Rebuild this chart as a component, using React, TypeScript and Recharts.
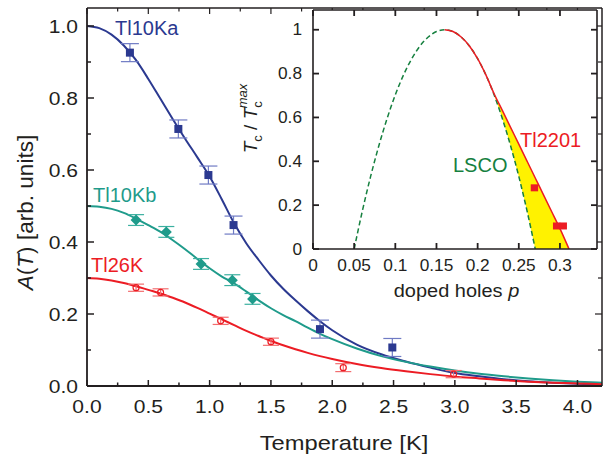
import React from 'react';
import { ComposedChart, Line, Scatter, ErrorBar, XAxis, YAxis, Area, CartesianGrid } from 'recharts';

const FONT = '"Liberation Sans", Arial, Helvetica, sans-serif';
const AX = '#231f20';
const BLUE = '#2b3990';
const TEAL = '#1f9b8b';
const RED = '#ec1c24';
const GREEN = '#16803f';
const YELLOW = '#fff200';

// ---------- main panel data ----------
const fitT = [0, 0.1, 0.2, 0.3, 0.4, 0.5, 0.6, 0.7, 0.8, 0.9, 1.0, 1.1, 1.2, 1.3, 1.4, 1.5, 1.6, 1.7, 1.8, 1.9, 2.0, 2.2, 2.4, 2.6, 2.8, 3.0, 3.2, 3.4, 3.6, 3.8, 4.0, 4.2];
const fitKa = [1.0, 0.994, 0.976, 0.946, 0.905, 0.853, 0.797, 0.741, 0.687, 0.635, 0.582, 0.518, 0.452, 0.396, 0.35, 0.307, 0.27, 0.238, 0.208, 0.18, 0.155, 0.115, 0.088, 0.068, 0.051, 0.036, 0.027, 0.019, 0.013, 0.009, 0.006, 0.004];
const fitKb = [0.5, 0.498, 0.492, 0.481, 0.465, 0.447, 0.428, 0.405, 0.38, 0.353, 0.327, 0.304, 0.285, 0.262, 0.238, 0.216, 0.197, 0.18, 0.162, 0.145, 0.13, 0.104, 0.083, 0.067, 0.054, 0.043, 0.034, 0.027, 0.021, 0.016, 0.012, 0.009];
const fit26 = [0.3, 0.298, 0.293, 0.286, 0.277, 0.267, 0.257, 0.245, 0.232, 0.217, 0.201, 0.185, 0.169, 0.153, 0.139, 0.125, 0.113, 0.102, 0.092, 0.083, 0.075, 0.061, 0.05, 0.041, 0.033, 0.026, 0.021, 0.016, 0.012, 0.009, 0.007, 0.005];

const kaT = [0.35, 0.745, 0.99, 1.195, 1.9, 2.49];
const kaA = [0.926, 0.714, 0.586, 0.447, 0.158, 0.107];
const kaErr = [0.025, 0.025, 0.025, 0.025, 0.025, 0.025];

const kbT = [0.4, 0.647, 0.93, 1.185, 1.35];
const kbA = [0.461, 0.428, 0.339, 0.294, 0.242];
const kbErr = [0.015, 0.015, 0.015, 0.015, 0.015];

const k26T = [0.4, 0.6, 1.09, 1.5, 2.09, 2.99];
const k26A = [0.273, 0.26, 0.181, 0.123, 0.051, 0.033];
const k26Err = [0.01, 0.01, 0.01, 0.01, 0.011, 0.01];

const mainXTicks = [0, 0.25, 0.5, 0.75, 1.0, 1.25, 1.5, 1.75, 2.0, 2.25, 2.5, 2.75, 3.0, 3.25, 3.5, 3.75, 4.0];
const mainYTicks = [0, 0.1, 0.2, 0.3, 0.4, 0.5, 0.6, 0.7, 0.8, 0.9, 1.0];

// ---------- inset data ----------
const lscoP = [0.05, 0.06, 0.07, 0.08, 0.09, 0.1, 0.11, 0.12, 0.13, 0.14, 0.15, 0.16, 0.17, 0.18, 0.19, 0.2, 0.21, 0.22, 0.23, 0.24, 0.25, 0.26, 0.27];
const lscoTc = [0, 0.174, 0.331, 0.471, 0.595, 0.703, 0.794, 0.868, 0.926, 0.967, 0.992, 1.0, 0.992, 0.967, 0.926, 0.868, 0.794, 0.703, 0.595, 0.471, 0.331, 0.174, 0];
const tlP = [0.16, 0.17, 0.18, 0.19, 0.2, 0.21, 0.22, 0.23, 0.24, 0.25, 0.26, 0.27, 0.28, 0.29, 0.3, 0.311];
const tlTc = [1.0, 0.992, 0.967, 0.926, 0.868, 0.794, 0.708, 0.632, 0.555, 0.478, 0.401, 0.324, 0.247, 0.17, 0.093, 0];
const shadeP = [0.22, 0.23, 0.24, 0.25, 0.26, 0.27, 0.28, 0.29, 0.3, 0.311];
const shadeLo = [0.703, 0.595, 0.471, 0.331, 0.174, 0, 0, 0, 0, 0];
const shadeHi = [0.708, 0.632, 0.555, 0.478, 0.401, 0.324, 0.247, 0.17, 0.093, 0];
const tlPtP = [0.269, 0.296, 0.304];
const tlPtTc = [0.279, 0.105, 0.105];

const insetXTicks = [0, 0.05, 0.1, 0.15, 0.2, 0.25, 0.3];
const insetYTicks = [0, 0.2, 0.4, 0.6, 0.8, 1];

const zipXY = (xs: number[], ys: number[]) => xs.map((x, i) => ({ x, y: ys[i] }));
const zipErr = (xs: number[], ys: number[], es: number[]) => xs.map((x, i) => ({ x, y: ys[i], e: es[i] }));

const fitKaData = zipXY(fitT, fitKa);
const fitKbData = zipXY(fitT, fitKb);
const fit26Data = zipXY(fitT, fit26);
const kaData = zipErr(kaT, kaA, kaErr);
const kbData = zipErr(kbT, kbA, kbErr);
const k26Data = zipErr(k26T, k26A, k26Err);

const lscoData = zipXY(lscoP, lscoTc);
const tlData = zipXY(tlP, tlTc);
const shadeData = shadeP.map((x, i) => ({ x, r: [shadeLo[i], shadeHi[i]] }));
const tlPtData = zipXY(tlPtP, tlPtTc);

// ---------- tick renderers ----------
const MainXTick = (props: any) => {
  const { x, y, payload } = props;
  const v = payload.value as number;
  const major = Math.round(v * 4) % 2 === 0;
  return (
    <g>
      <line x1={x} x2={x} y1={y} y2={y - (major ? 6 : 3.5)} stroke={AX} strokeWidth={1.5} />
      {major && (
        <text transform={`translate(${x},${y + 27}) scale(1.17,1)`} textAnchor="middle" fontSize={18} fill={AX} fontFamily={FONT}>
          {v.toFixed(1)}
        </text>
      )}
    </g>
  );
};
const MainTopTick = (props: any) => {
  const { x, y, payload } = props;
  const v = payload.value as number;
  const major = Math.round(v * 4) % 2 === 0;
  return <line x1={x} x2={x} y1={y} y2={y + (major ? 6 : 3.5)} stroke={AX} strokeWidth={1.2} />;
};
const MainYTick = (props: any) => {
  const { x, y, payload } = props;
  const v = payload.value as number;
  const major = Math.round(v * 10) % 2 === 0;
  return (
    <g>
      <line x1={x} x2={x + (major ? 7 : 4)} y1={y} y2={y} stroke={AX} strokeWidth={1.5} />
      {major && (
        <text transform={`translate(${x - 9},${y + 6.5}) scale(1.17,1)`} textAnchor="end" fontSize={18} fill={AX} fontFamily={FONT}>
          {v.toFixed(1)}
        </text>
      )}
    </g>
  );
};
const MainRightTick = (props: any) => {
  const { x, y, payload } = props;
  const v = payload.value as number;
  const major = Math.round(v * 10) % 2 === 0;
  return <line x1={x} x2={x - (major ? 7 : 4)} y1={y} y2={y} stroke={AX} strokeWidth={1.2} />;
};

const InsetXTick = (props: any) => {
  const { x, y, payload } = props;
  const v = payload.value as number;
  return (
    <g>
      <line x1={x} x2={x} y1={y} y2={y - 6} stroke={AX} strokeWidth={1.8} />
      <text transform={`translate(${x},${y + 22}) scale(1.08,1)`} textAnchor="middle" fontSize={16} fill={AX} fontFamily={FONT}>
        {String(v)}
      </text>
    </g>
  );
};
const InsetTopTick = (props: any) => {
  const { x, y } = props;
  return <line x1={x} x2={x} y1={y} y2={y + 6} stroke={AX} strokeWidth={1.8} />;
};
const InsetYTick = (props: any) => {
  const { x, y, payload } = props;
  const v = payload.value as number;
  return (
    <g>
      <line x1={x} x2={x + 6} y1={y} y2={y} stroke={AX} strokeWidth={1.8} />
      <text transform={`translate(${x - 11},${y + 5.7}) scale(1.08,1)`} textAnchor="end" fontSize={16} fill={AX} fontFamily={FONT}>
        {String(v)}
      </text>
    </g>
  );
};
const InsetRightTick = (props: any) => {
  const { x, y } = props;
  return <line x1={x} x2={x - 6} y1={y} y2={y} stroke={AX} strokeWidth={1.8} />;
};

// ---------- marker shapes ----------
const SquareShape = (props: any) => {
  const { cx, cy } = props;
  return <rect x={cx - 4} y={cy - 4} width={8} height={8} fill={BLUE} />;
};
const DiamondShape = (props: any) => {
  const { cx, cy } = props;
  const h = 5.5;
  return <polygon points={`${cx},${cy - h} ${cx + h},${cy} ${cx},${cy + h} ${cx - h},${cy}`} fill={TEAL} />;
};
const CircleShape = (props: any) => {
  const { cx, cy } = props;
  return <circle cx={cx} cy={cy} r={3} fill="none" stroke={RED} strokeWidth={1.2} />;
};
const RedSquare = (props: any) => {
  const { cx, cy } = props;
  return <rect x={cx - 3.7} y={cy - 3.5} width={7.4} height={7} fill={RED} />;
};

const axisCommon = {
  type: 'number' as const,
  allowDataOverflow: true,
  tickSize: 0,
  tickMargin: 0,
  tickLine: false,
  interval: 0 as const,
};

export default function App() {
  return (
    <div style={{ position: 'absolute', left: 0, top: 0, width: 605, height: 455, background: '#fff' }}>
      {/* main chart: plot area x 87..602, y 8..386 */}
      <div style={{ position: 'absolute', left: 0, top: 0 }}>
        <ComposedChart width={605} height={455} margin={{ top: 7, right: 2, bottom: 39, left: 27 }}>
          <XAxis {...axisCommon} xAxisId={0} dataKey="x" domain={[0, 4.2]} ticks={mainXTicks} height={30}
            tick={MainXTick} axisLine={{ stroke: AX, strokeWidth: 1.8 }} />
          <XAxis {...axisCommon} xAxisId="top" orientation="top" dataKey="x" domain={[0, 4.2]} ticks={mainXTicks} height={1}
            tick={MainTopTick} axisLine={{ stroke: AX, strokeWidth: 1.5 }} />
          <YAxis {...axisCommon} yAxisId={0} dataKey="y" domain={[0, 1.05]} ticks={mainYTicks} width={60}
            tick={MainYTick} axisLine={{ stroke: AX, strokeWidth: 1.8 }} />
          <YAxis {...axisCommon} yAxisId="right" orientation="right" dataKey="y" domain={[0, 1.05]} ticks={mainYTicks} width={1}
            tick={MainRightTick} axisLine={{ stroke: AX, strokeWidth: 1.5 }} />
          <Line data={fitKaData} dataKey="y" type="monotone" stroke={BLUE} strokeWidth={2} dot={false} isAnimationActive={false} />
          <Line data={fitKbData} dataKey="y" type="monotone" stroke={TEAL} strokeWidth={2} dot={false} isAnimationActive={false} />
          <Line data={fit26Data} dataKey="y" type="monotone" stroke={RED} strokeWidth={2} dot={false} isAnimationActive={false} />
          <Scatter data={kaData} shape={SquareShape} isAnimationActive={false}>
            <ErrorBar dataKey="e" direction="y" width={9} stroke="#6f7bc4" strokeWidth={1.2} isAnimationActive={false} />
          </Scatter>
          <Scatter data={kbData} shape={DiamondShape} isAnimationActive={false}>
            <ErrorBar dataKey="e" direction="y" width={8} stroke="#3bb0a0" strokeWidth={1.2} isAnimationActive={false} />
          </Scatter>
          <Scatter data={k26Data} shape={CircleShape} isAnimationActive={false}>
            <ErrorBar dataKey="e" direction="y" width={8} stroke="#f26d6f" strokeWidth={1.2} isAnimationActive={false} />
          </Scatter>
        </ComposedChart>
      </div>

      {/* inset chart: plot area x 313..597, y 10..249 */}
      <div style={{ position: 'absolute', left: 230, top: 0 }}>
        <ComposedChart width={375} height={300} margin={{ top: 9, right: 7, bottom: 21, left: 43 }}>
          <CartesianGrid horizontal={false} vertical={false} fill="#ffffff" />
          <XAxis {...axisCommon} xAxisId={0} dataKey="x" domain={[0, 0.345]} ticks={insetXTicks} height={30}
            tick={InsetXTick} axisLine={{ stroke: AX, strokeWidth: 1.6 }} />
          <XAxis {...axisCommon} xAxisId="t" orientation="top" dataKey="x" domain={[0, 0.345]} ticks={insetXTicks} height={1}
            tick={InsetTopTick} axisLine={{ stroke: AX, strokeWidth: 1.6 }} />
          <YAxis {...axisCommon} yAxisId={0} dataKey="y" domain={[0, 1.09]} ticks={insetYTicks} width={40}
            tick={InsetYTick} axisLine={{ stroke: AX, strokeWidth: 1.6 }} />
          <YAxis {...axisCommon} yAxisId="r" orientation="right" dataKey="y" domain={[0, 1.09]} ticks={insetYTicks} width={1}
            tick={InsetRightTick} axisLine={{ stroke: AX, strokeWidth: 1.6 }} />
          <Area data={shadeData} dataKey="r" type="linear" stroke="none" fill={YELLOW} fillOpacity={1} isAnimationActive={false} />
          <Line data={lscoData} dataKey="y" type="monotone" stroke={GREEN} strokeWidth={1.5} strokeDasharray="5 3" dot={false} isAnimationActive={false} />
          <Line data={tlData} dataKey="y" type="monotone" stroke={RED} strokeWidth={1.5} dot={false} isAnimationActive={false} />
          <Scatter data={tlPtData} shape={RedSquare} isAnimationActive={false} />
        </ComposedChart>
      </div>

      {/* text overlay */}
      <svg width={605} height={455} style={{ position: 'absolute', left: 0, top: 0, pointerEvents: 'none' }} fontFamily={FONT}>
        <text x={115} y={35} fontSize={20} fill={BLUE}>Tl10Ka</text>
        <text x={93} y={201.5} fontSize={20} fill={TEAL}>Tl10Kb</text>
        <text x={91} y={272} fontSize={20} fill={RED}>Tl26K</text>
        <text x={520} y={146.5} fontSize={20} fill={RED}>Tl2201</text>
        <text x={453} y={171.5} fontSize={20} fill={GREEN}>LSCO</text>
        <text transform="translate(344,450) scale(1.13,1)" textAnchor="middle" fontSize={21} fill={AX}>
          Temperature [K]
        </text>
        <text transform="translate(32.5,212.5) rotate(-90) scale(1.05,1)" textAnchor="middle" fontSize={21.5} fill={AX}>
          <tspan fontStyle="italic">A</tspan>
          <tspan>(</tspan>
          <tspan fontStyle="italic">T</tspan>
          <tspan>) [arb. units]</tspan>
        </text>
        <text transform="translate(456.5,297) scale(1.08,1)" textAnchor="middle" fontSize={18.5} fill={AX}>
          <tspan>doped holes </tspan>
          <tspan fontStyle="italic">p</tspan>
        </text>
        <text transform="translate(257,118.5) rotate(-90)" textAnchor="middle" fontSize={19} fill={AX}>
          <tspan fontStyle="italic">T</tspan>
          <tspan fontSize={13} dy={5}>c</tspan>
          <tspan dy={-5}> / </tspan>
          <tspan fontStyle="italic">T</tspan>
          <tspan fontSize={13} dy={5}>c</tspan>
          <tspan fontSize={13} fontStyle="italic" dx={-7} dy={-15}>max</tspan>
        </text>
      </svg>
    </div>
  );
}
